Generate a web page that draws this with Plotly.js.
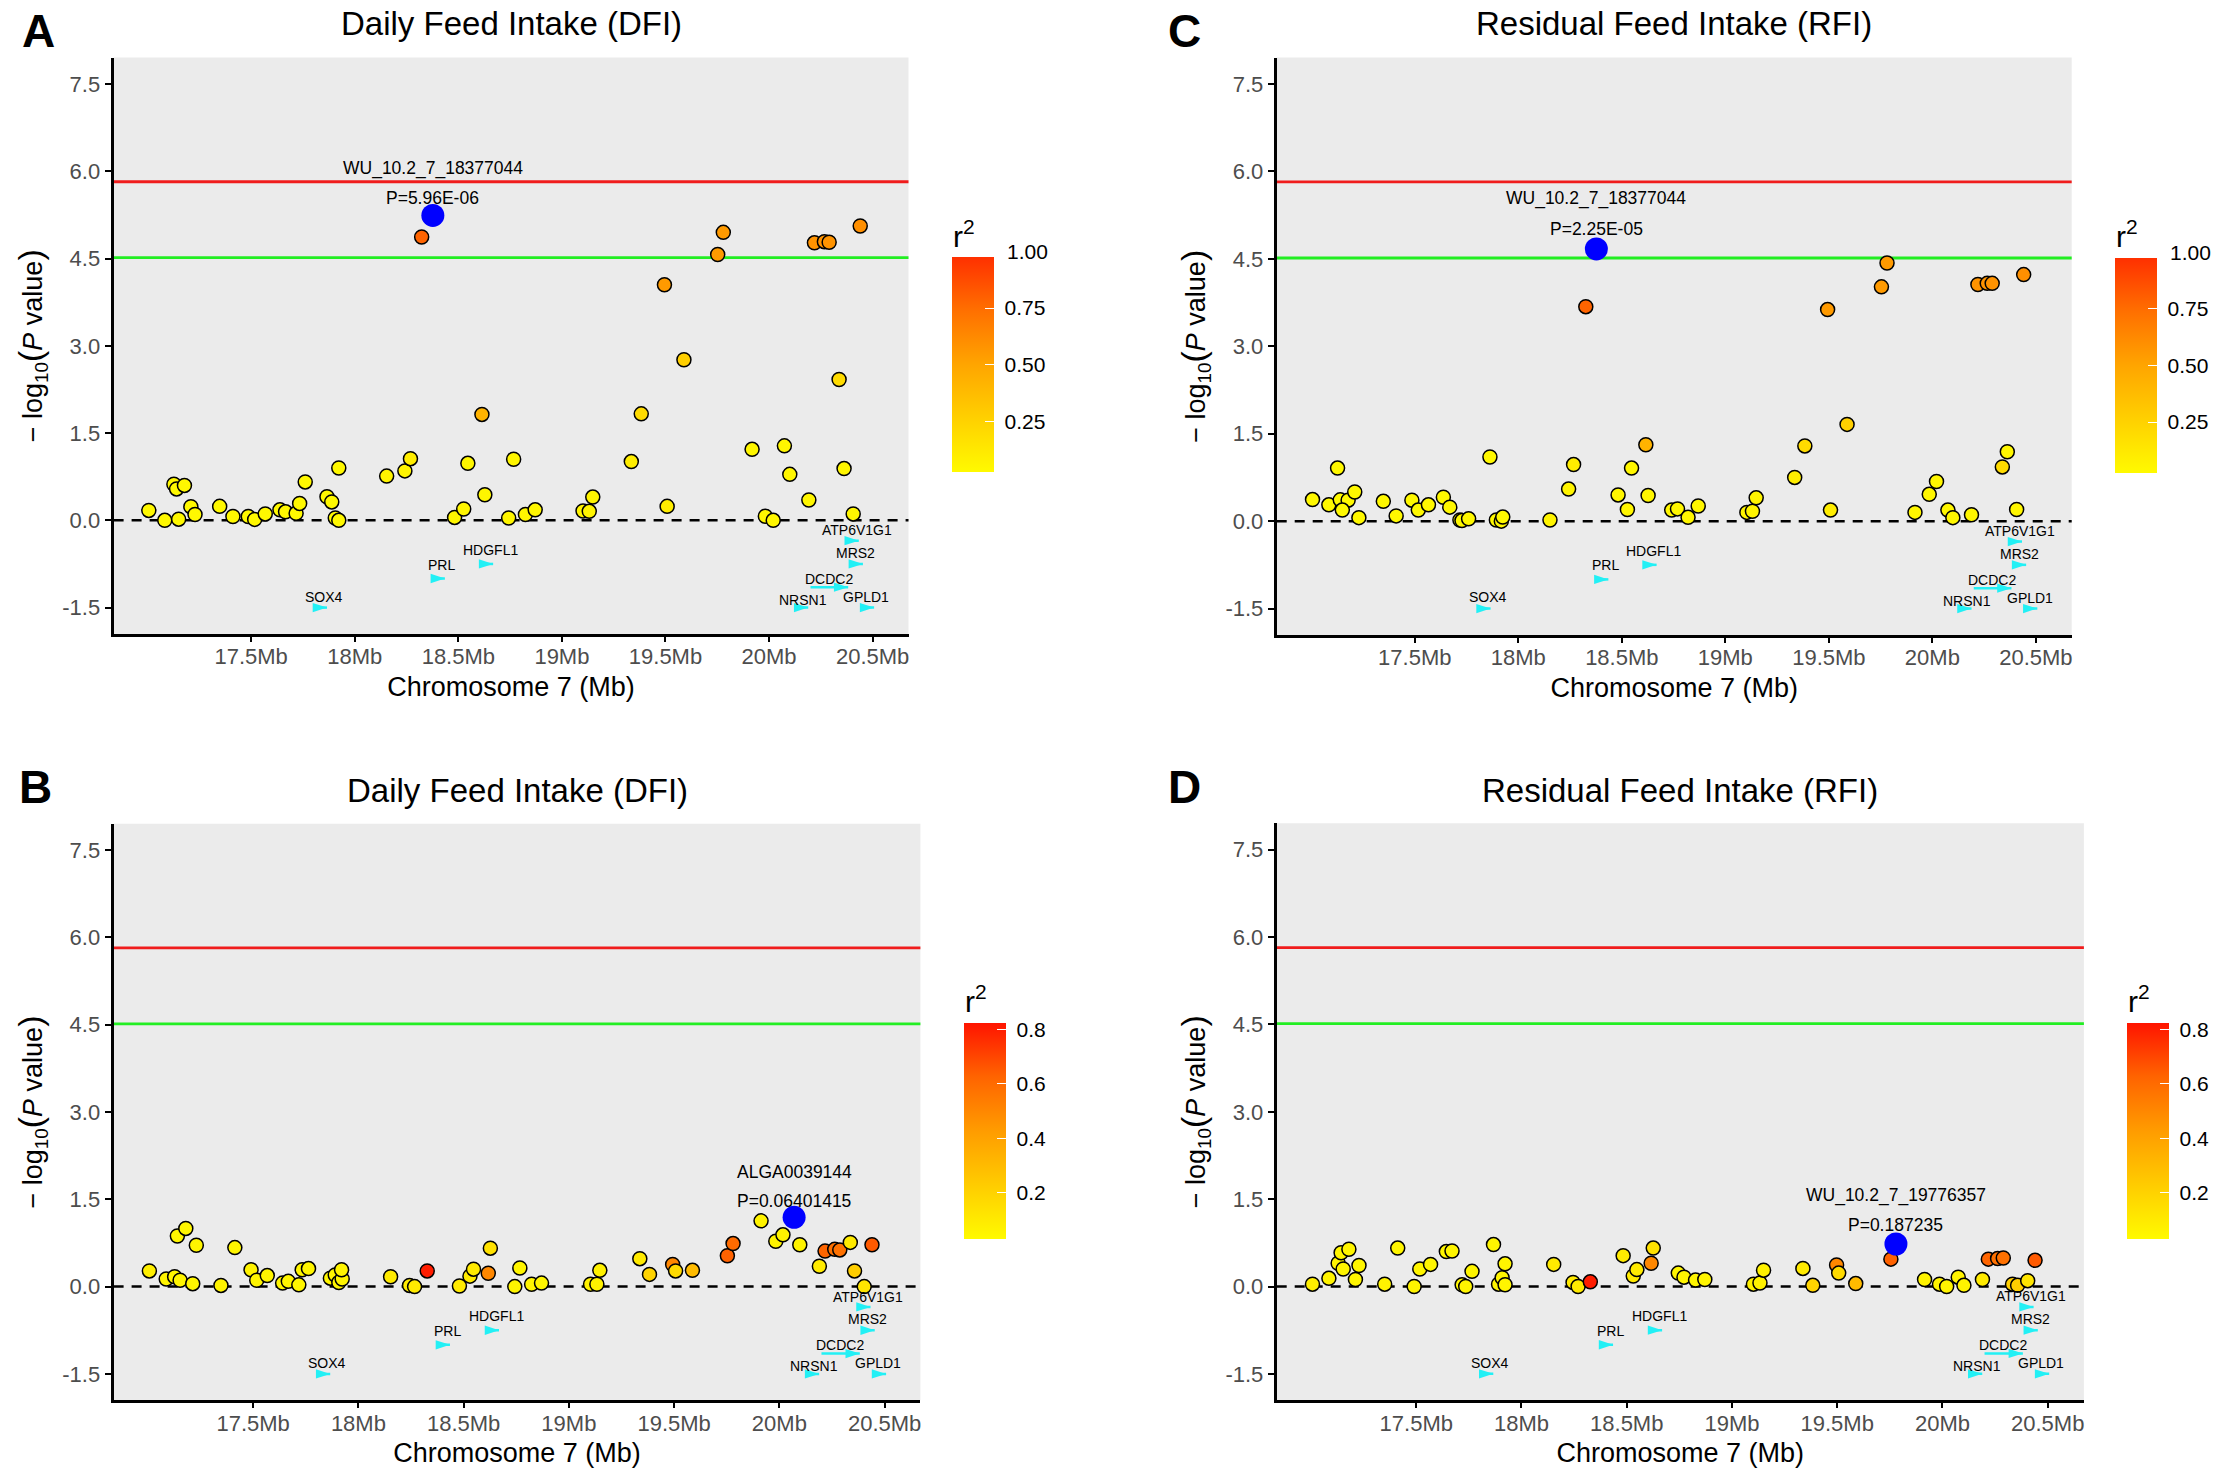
<!DOCTYPE html>
<html>
<head>
<meta charset="utf-8">
<script src="https://cdn.plot.ly/plotly-3.0.1.min.js"></script>
<style>
  html, body { margin: 0; padding: 0; background: #fff; }
</style>
</head>
<body>
<div id="chart" style="width:2222px;height:1478px;"></div>
<script>
// panel A, DFI, lead SNP WU_10.2_7_18377044
var aMb = [17.006,17.083,17.127,17.14,17.178,17.15,17.209,17.229,17.348,17.412,17.486,17.517,17.568,17.639,17.666,17.717,17.734,17.761,17.866,17.889,17.906,17.923,17.923,18.154,18.242,18.269,18.323,18.482,18.526,18.546,18.614,18.628,18.743,18.767,18.824,18.871,19.102,19.132,19.149,19.335,19.383,19.495,19.508,19.589,19.752,19.779,19.918,19.982,20.02,20.074,20.1,20.192,20.219,20.267,20.29,20.338,20.362,20.406,20.44];
var aLogP = [0.17,0,0.62,0.54,0.6,0.02,0.235,0.1,0.24,0.065,0.065,0.016,0.11,0.18,0.146,0.12,0.29,0.66,0.405,0.316,0.04,0,0.9,0.76,0.85,1.06,4.87,0.05,0.195,0.98,1.82,0.44,0.04,1.05,0.1,0.18,0.16,0.155,0.4,1.01,1.83,4.05,0.24,2.76,4.57,4.95,1.22,0.07,0,1.28,0.79,0.35,4.77,4.79,4.78,2.42,0.89,0.11,5.06];
var aR2 = [0.04,0.04,0.04,0.04,0.04,0.04,0.04,0.04,0.04,0.04,0.04,0.04,0.04,0.04,0.04,0.04,0.04,0.04,0.04,0.04,0.04,0.04,0.04,0.06,0.06,0.1,0.78,0.05,0.05,0.05,0.42,0.05,0.05,0.05,0.05,0.05,0.06,0.06,0.06,0.1,0.2,0.55,0.1,0.27,0.55,0.55,0.05,0.05,0.05,0.05,0.05,0.05,0.58,0.58,0.58,0.2,0.05,0.05,0.6];

// panel C, RFI, same lead SNP
var cMb = [17.006,17.085,17.127,17.14,17.178,17.15,17.21,17.23,17.348,17.41,17.486,17.517,17.566,17.638,17.669,17.718,17.728,17.76,17.863,17.894,17.918,17.925,18.153,18.243,18.267,18.326,18.482,18.527,18.547,18.616,18.627,18.741,18.769,18.82,18.869,19.104,19.131,19.149,19.335,19.384,19.494,19.508,19.588,19.754,19.781,19.916,19.985,20.02,20.075,20.099,20.189,20.22,20.265,20.289,20.338,20.362,20.407,20.441];
var cLogP = [0.37,0.28,0.91,0.365,0.36,0.19,0.5,0.06,0.34,0.09,0.36,0.19,0.28,0.41,0.24,0.02,0.01,0.04,1.1,0.02,0,0.07,0.02,0.55,0.97,3.68,0.45,0.2,0.91,1.31,0.44,0.19,0.21,0.065,0.26,0.15,0.17,0.4,0.75,1.29,3.63,0.19,1.66,4.02,4.43,0.15,0.46,0.68,0.19,0.06,0.11,4.06,4.08,4.08,0.93,1.19,0.2,4.23];
var cR2 = [0.04,0.04,0.04,0.04,0.04,0.04,0.04,0.04,0.04,0.04,0.04,0.04,0.04,0.04,0.04,0.04,0.04,0.04,0.04,0.04,0.04,0.04,0.06,0.06,0.1,0.78,0.05,0.05,0.05,0.42,0.05,0.05,0.05,0.05,0.05,0.06,0.06,0.06,0.1,0.2,0.55,0.1,0.27,0.55,0.55,0.05,0.05,0.05,0.05,0.05,0.05,0.58,0.58,0.58,0.2,0.05,0.05,0.6];

// panel B, DFI, lead SNP ALGA0039144
var bMb = [17.007,17.087,17.127,17.14,17.153,17.18,17.213,17.23,17.347,17.413,17.49,17.517,17.567,17.64,17.667,17.717,17.733,17.763,17.867,17.89,17.907,17.923,17.92,18.153,18.243,18.267,18.327,18.48,18.53,18.547,18.617,18.627,18.743,18.767,18.823,18.87,19.103,19.133,19.147,19.337,19.383,19.493,19.507,19.587,19.753,19.78,19.913,19.983,20.017,20.097,20.19,20.217,20.263,20.287,20.337,20.357,20.403,20.44];
var bLogP = [0.27,0.13,0.17,0.87,0.11,1,0.05,0.71,0.02,0.67,0.29,0.11,0.19,0.06,0.09,0.03,0.29,0.31,0.145,0.2,0.07,0.13,0.29,0.17,0.02,0,0.27,0.01,0.18,0.3,0.23,0.66,0,0.32,0.04,0.06,0.04,0.04,0.28,0.48,0.21,0.38,0.27,0.28,0.53,0.74,1.13,0.78,0.89,0.72,0.35,0.61,0.64,0.63,0.76,0.27,0,0.72];
var bR2 = [0.08,0.06,0.05,0.05,0.05,0.05,0.05,0.05,0.06,0.05,0.06,0.05,0.05,0.05,0.05,0.05,0.05,0.05,0.05,0.05,0.05,0.05,0.05,0.1,0.1,0.1,0.8,0.1,0.1,0.1,0.5,0.14,0.05,0.05,0.05,0.05,0.07,0.07,0.07,0.1,0.2,0.5,0.17,0.3,0.63,0.6,0.06,0.06,0.06,0.06,0.1,0.62,0.58,0.58,0.1,0.22,0.12,0.65];

// panel D, RFI, lead SNP WU_10.2_7_19776357
var dMb = [17.007,17.085,17.129,17.143,17.153,17.18,17.211,17.228,17.35,17.412,17.49,17.517,17.568,17.643,17.67,17.718,17.735,17.765,17.867,17.891,17.908,17.922,17.922,18.153,18.245,18.269,18.327,18.483,18.531,18.548,18.616,18.626,18.745,18.772,18.827,18.871,19.102,19.133,19.15,19.337,19.384,19.497,19.507,19.588,19.755,19.915,19.986,20.02,20.075,20.102,20.19,20.218,20.262,20.289,20.333,20.357,20.405,20.44];
var dLogP = [0.04,0.14,0.4,0.58,0.3,0.64,0.12,0.36,0.04,0.66,0,0.3,0.38,0.6,0.61,0.03,0,0.26,0.72,0.04,0.15,0.03,0.39,0.38,0.07,0,0.08,0.53,0.18,0.29,0.4,0.66,0.23,0.16,0.11,0.12,0.04,0.06,0.28,0.31,0.02,0.37,0.23,0.05,0.47,0.12,0.04,0,0.16,0.02,0.12,0.47,0.48,0.49,0.04,0.02,0.1,0.45];
var dR2 = [0.08,0.06,0.05,0.05,0.05,0.05,0.05,0.05,0.06,0.05,0.06,0.05,0.05,0.05,0.05,0.05,0.05,0.05,0.05,0.05,0.05,0.05,0.05,0.1,0.1,0.1,0.8,0.1,0.1,0.1,0.5,0.14,0.05,0.05,0.05,0.05,0.07,0.07,0.07,0.1,0.2,0.5,0.17,0.3,0.63,0.06,0.06,0.06,0.06,0.06,0.1,0.62,0.58,0.58,0.22,0.22,0.12,0.65];

// lead SNPs (blue dots)
var leadMb = [18.377, 20.07, 18.377, 19.779];
var leadLogP = [5.24, 1.19, 4.67, 0.73];
var leadNames = ['WU_10.2_7_18377044', 'ALGA0039144', 'WU_10.2_7_18377044', 'WU_10.2_7_19776357'];
var leadPvals = ['P=5.96E-06', 'P=0.06401415', 'P=2.25E-05', 'P=0.187235'];

// genes, drawn as little arrows under the dashed line
var geneNames = ['SOX4', 'PRL', 'HDGFL1', 'ATP6V1G1', 'MRS2', 'DCDC2', 'NRSN1', 'GPLD1'];
var geneStart = [17.808, 18.377, 18.611, 20.375, 20.395, 20.2, 20.131, 20.45];
var geneEnd = [17.866, 18.435, 18.668, 20.433, 20.453, 20.382, 20.189, 20.507];
var geneRow = [-1.5, -1, -0.75, -0.35, -0.75, -1.15, -1.5, -1.5];
var geneLabelMb = [17.852, 18.421, 18.655, 20.422, 20.419, 20.287, 20.165, 20.47];
var geneLabelY = [-1.31, -0.76, -0.51, -0.17, -0.56, -1.01, -1.37, -1.32];

var xTickVals = [17.5, 18, 18.5, 19, 19.5, 20, 20.5];
var xTickText = ['17.5Mb', '18Mb', '18.5Mb', '19Mb', '19.5Mb', '20Mb', '20.5Mb'];
var yTickVals = [-1.5, 0, 1.5, 3, 4.5, 6, 7.5];
var yTickText = ['-1.5', '0.0', '1.5', '3.0', '4.5', '6.0', '7.5'];

var W = 2222, H = 1478;
var ARIAL = '"Liberation Sans", Arial, sans-serif';

var scaleTop = [[0, '#FFFA00'], [0.25, '#FFD000'], [0.5, '#FFA500'], [0.75, '#FF7000'], [1, '#FF3000']];
var scaleBottom = [[0, '#FFFA00'], [0.25, '#FFCC00'], [0.5, '#FF9C00'], [0.75, '#FF6400'], [1, '#FF1400']];

var panels = [
  { letter: 'A', title: 'Daily Feed Intake (DFI)', mb: aMb, logp: aLogP, r2: aR2, l: 113.6, r: 908.5, t: 57.6, b: 634,
    letterX: 38, letterY: 31, titleY: 24, barL: 952, barT: 257.7, barB: 472.4, cmin: 0.026, cmax: 0.973,
    ticks: [0.25, 0.5, 0.75], tickText: ['0.25', '0.50', '0.75'], topLabel: '1.00', topLabelY: 251.5, scale: scaleTop,
    nameY: 6.05, pvalY: 5.54, xr: [16.836, 20.673] },
  { letter: 'B', title: 'Daily Feed Intake (DFI)', mb: bMb, logp: bLogP, r2: bR2, l: 113.6, r: 920.4, t: 823.8, b: 1400.3,
    letterX: 35, letterY: 787, titleY: 790, barL: 964, barT: 1023.3, barB: 1238.9, cmin: 0.0305, cmax: 0.823,
    ticks: [0.2, 0.4, 0.6, 0.8], tickText: ['0.2', '0.4', '0.6', '0.8'], scale: scaleBottom,
    nameY: 1.97, pvalY: 1.47, xr: [16.837, 20.67] },
  { letter: 'C', title: 'Residual Feed Intake (RFI)', mb: cMb, logp: cLogP, r2: cR2, l: 1276.7, r: 2071.7, t: 57.6, b: 635,
    letterX: 1184, letterY: 31, titleY: 24, barL: 2114.7, barT: 258, barB: 473, cmin: 0.026, cmax: 0.973,
    ticks: [0.25, 0.5, 0.75], tickText: ['0.25', '0.50', '0.75'], topLabel: '1.00', topLabelY: 252, scale: scaleTop,
    nameY: 5.54, pvalY: 5.02, xr: [16.833, 20.673] },
  { letter: 'D', title: 'Residual Feed Intake (RFI)', mb: dMb, logp: dLogP, r2: dR2, l: 1276.7, r: 2083.9, t: 823.3, b: 1400.3,
    letterX: 1184, letterY: 787, titleY: 790, barL: 2126.8, barT: 1023.3, barB: 1238.9, cmin: 0.0305, cmax: 0.823,
    ticks: [0.2, 0.4, 0.6, 0.8], tickText: ['0.2', '0.4', '0.6', '0.8'], scale: scaleBottom,
    nameY: 1.57, pvalY: 1.06, xr: [16.837, 20.672] }
];

var data = [];
var layout = {
  width: W,
  height: H,
  margin: { l: 0, r: 0, t: 0, b: 0, autoexpand: false },
  paper_bgcolor: '#fff',
  plot_bgcolor: '#fff',
  font: { family: ARIAL, color: '#000' },
  showlegend: false,
  annotations: [],
  shapes: []
};

var BAR_THICK = 42;

// line segments for the gene arrows, null between genes
var geneLineX = [], geneLineY = [];
geneNames.forEach(function (g, k) {
  geneLineX.push(geneStart[k], geneEnd[k], null);
  geneLineY.push(geneRow[k], geneRow[k], null);
});

panels.forEach(function (p, i) {
  var n = i === 0 ? '' : String(i + 1);
  var xName = 'x' + n, yName = 'y' + n;

  layout['xaxis' + n] = {
    domain: [p.l / W, p.r / W],
    anchor: yName,
    range: p.xr,
    tickmode: 'array',
    tickvals: xTickVals,
    ticktext: xTickText,
    tickfont: { size: 22, color: '#4d4d4d' },
    ticks: 'outside',
    ticklen: 5,
    tickwidth: 2,
    ticklabelstandoff: -4,
    tickcolor: '#000',
    showline: true,
    linecolor: '#000',
    linewidth: 3,
    showgrid: false,
    zeroline: false,
    title: { text: 'Chromosome 7 (Mb)', font: { size: 27 }, standoff: 9 }
  };
  layout['yaxis' + n] = {
    domain: [1 - p.b / H, 1 - p.t / H],
    anchor: xName,
    range: [-1.954, 7.954],
    tickmode: 'array',
    tickvals: yTickVals,
    ticktext: yTickText,
    tickfont: { size: 22, color: '#4d4d4d' },
    ticks: 'outside',
    ticklen: 6,
    tickwidth: 2,
    tickcolor: '#000',
    showline: true,
    linecolor: '#000',
    linewidth: 3,
    showgrid: false,
    zeroline: false,
    title: { text: '\u2212 log<sub>10</sub><span style="font-size:34px">(</span><i>P</i> value<span style="font-size:34px">)</span>', font: { size: 27 }, standoff: 12 }
  };

  // grey panel and the three horizontal lines
  layout.shapes.push({ type: 'rect', xref: xName + ' domain', yref: yName + ' domain', x0: 0, x1: 1, y0: 0, y1: 1,
    fillcolor: '#EBEBEB', line: { width: 0 }, layer: 'below' });
  layout.shapes.push({ type: 'line', xref: xName + ' domain', yref: yName, x0: 0, x1: 1, y0: 5.82, y1: 5.82,
    line: { color: '#F01C1C', width: 2.8 }, layer: 'below' });
  layout.shapes.push({ type: 'line', xref: xName + ' domain', yref: yName, x0: 0, x1: 1, y0: 4.515, y1: 4.515,
    line: { color: '#22EE22', width: 2.8 }, layer: 'below' });
  layout.shapes.push({ type: 'line', xref: xName + ' domain', yref: yName, x0: 0, x1: 1, y0: 0, y1: 0,
    line: { color: '#000', width: 2.5, dash: '10px,8px' }, layer: 'below' });

  // gene arrows: a short line plus an arrow head at the gene end
  data.push({
    type: 'scatter',
    mode: 'lines',
    xaxis: xName,
    yaxis: yName,
    x: geneLineX,
    y: geneLineY,
    line: { color: '#22F0F5', width: 2.5 },
    hoverinfo: 'skip'
  });
  data.push({
    type: 'scatter',
    mode: 'markers',
    xaxis: xName,
    yaxis: yName,
    x: geneEnd,
    y: geneRow,
    marker: { symbol: 'arrow', angle: 90, size: 15, color: '#22F0F5', line: { width: 0 } },
    hoverinfo: 'skip'
  });

  data.push({
    type: 'scatter',
    mode: 'markers',
    xaxis: xName,
    yaxis: yName,
    x: p.mb,
    y: p.logp,
    marker: {
      size: 14,
      color: p.r2,
      cmin: p.cmin,
      cmax: p.cmax,
      colorscale: p.scale,
      line: { color: '#000', width: 1.5 },
      colorbar: {
        x: p.barL / W,
        xanchor: 'left',
        xpad: 0,
        y: 1 - p.barB / H,
        yanchor: 'bottom',
        ypad: 0,
        lenmode: 'pixels',
        len: p.barB - p.barT,
        thicknessmode: 'pixels',
        thickness: BAR_THICK,
        outlinewidth: 0,
        borderwidth: 0,
        tickmode: 'array',
        tickvals: p.ticks,
        ticktext: p.tickText.map(function (t) { return '\u00a0' + t; }),
        ticks: 'inside',
        ticklen: 9,
        tickwidth: 1,
        tickcolor: '#fff',
        tickfont: { size: 21, color: '#000' }
      }
    },
    hoverinfo: 'x+y'
  });

  data.push({
    type: 'scatter',
    mode: 'markers',
    xaxis: xName,
    yaxis: yName,
    x: [leadMb[i]],
    y: [leadLogP[i]],
    marker: { size: 23, color: '#0000FF' },
    hoverinfo: 'x+y'
  });

  // the left half of the white colour bar ticks
  p.ticks.forEach(function (v) {
    var py = p.barT + (p.cmax - v) / (p.cmax - p.cmin) * (p.barB - p.barT);
    layout.shapes.push({ type: 'line', xref: 'paper', yref: 'paper',
      x0: p.barL / W, x1: (p.barL + 9) / W, y0: 1 - py / H, y1: 1 - py / H,
      line: { color: '#fff', width: 1 }, layer: 'above' });
  });

  // panel letter, title, r2 heading
  layout.annotations.push({ xref: 'paper', yref: 'paper', x: p.letterX / W, y: 1 - p.letterY / H, xanchor: 'center', yanchor: 'middle', showarrow: false,
    text: '<b>' + p.letter + '</b>', font: { size: 46, color: '#000' } });
  layout.annotations.push({ xref: 'paper', yref: 'paper', x: (p.l + p.r) / 2 / W, y: 1 - p.titleY / H, xanchor: 'center', yanchor: 'middle', showarrow: false,
    text: p.title, font: { size: 33, color: '#000' } });
  layout.annotations.push({ xref: 'paper', yref: 'paper', x: p.barL / W, y: 1 - (p.barT - 4) / H, xanchor: 'left', yanchor: 'bottom', showarrow: false,
    text: 'r<sup>2</sup>', font: { size: 30, color: '#000' }, borderpad: 0 });
  if (p.topLabel) {
    layout.annotations.push({ xref: 'paper', yref: 'paper', x: (p.barL + BAR_THICK + 11) / W, y: 1 - p.topLabelY / H, xanchor: 'left', yanchor: 'middle', showarrow: false,
      text: p.topLabel, font: { size: 21, color: '#000' } });
  }

  // lead SNP labels
  layout.annotations.push({ xref: xName, yref: yName, x: leadMb[i], y: p.nameY, xanchor: 'center', yanchor: 'middle', showarrow: false,
    text: leadNames[i], font: { size: 17.5, color: '#000' } });
  layout.annotations.push({ xref: xName, yref: yName, x: leadMb[i], y: p.pvalY, xanchor: 'center', yanchor: 'middle', showarrow: false,
    text: leadPvals[i], font: { size: 17.5, color: '#000' } });

  // gene names
  geneNames.forEach(function (g, k) {
    layout.annotations.push({ xref: xName, yref: yName, x: geneLabelMb[k], y: geneLabelY[k], xanchor: 'center', yanchor: 'middle', showarrow: false,
      text: g, font: { size: 14, color: '#000' } });
  });
});

Plotly.newPlot('chart', data, layout, { displayModeBar: false, staticPlot: true });
</script>
</body>
</html>
